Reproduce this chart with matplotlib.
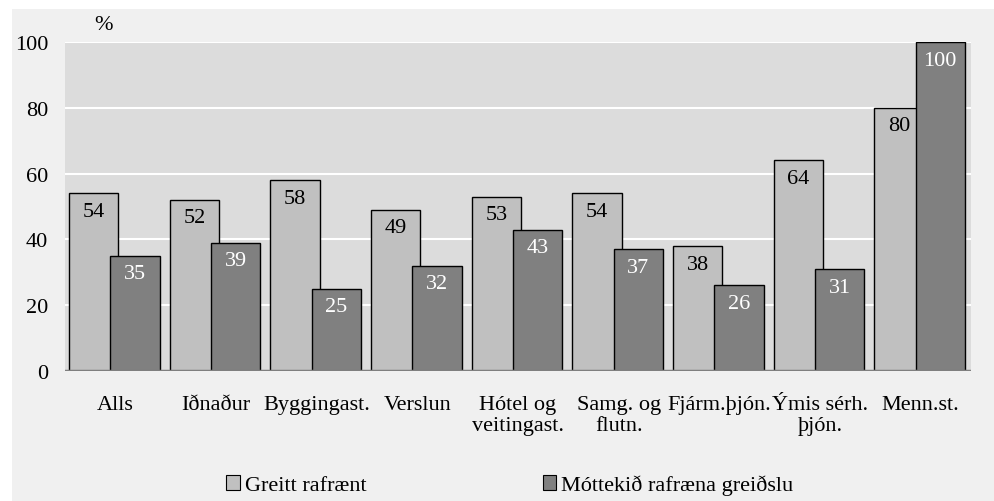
import matplotlib.pyplot as plt
from matplotlib.patches import Patch, Rectangle
import numpy as np

categories = ["Alls", "Iðnaður", "Byggingast.", "Verslun", "Hótel og\nveitingast.",
              "Samg. og\nflutn.", "Fjárm.þjón.", "Ýmis sérh.\nþjón.", "Menn.st."]
paid = [54, 52, 58, 49, 53, 54, 38, 64, 80]
received = [35, 39, 25, 32, 43, 37, 26, 31, 100]
series_names = ["Greitt rafrænt", "Móttekið rafræna greiðslu"]
yticks = [0, 20, 40, 60, 80, 100]

plt.rcParams["font.family"] = ["Liberation Serif", "DejaVu Serif"]
plt.rcParams["font.size"] = 16

fig = plt.figure(figsize=(9.94, 5.02), dpi=100, facecolor="white")
fig.patches.append(Rectangle((12 / 994, 0), 1, 1 - 10 / 502, transform=fig.transFigure,
                             facecolor="#f0f0f0", edgecolor="none", zorder=-10))

ax = fig.add_axes([65 / 994, 130 / 502, 906 / 994, 329 / 502])
ax.set_facecolor("#dcdcdc")

x = np.arange(len(categories))
w = 0.49
light = ax.bar(x + 0.04, paid, width=w, align="edge", color="#c0c0c0",
               edgecolor="black", linewidth=1, zorder=3)
dark = ax.bar(x + 0.45, received, width=w, align="edge", color="#808080",
              edgecolor="black", linewidth=1, zorder=4)

for bars, vals, col in [(light, paid, "black"), (dark, received, "white")]:
    for b, v in zip(bars, vals):
        ax.annotate(f"{v}", (b.get_x() + b.get_width() / 2, v), xytext=(0, -13),
                    textcoords="offset points", ha="center", va="center",
                    color=col, zorder=5)

ax.set_xlim(0, len(categories))
ax.set_ylim(0, 100)
ax.set_yticks(yticks)
ax.set_xticks(x + 0.5)
ax.set_xticklabels(categories, linespacing=1.15)
ax.tick_params(axis="both", length=0)
ax.tick_params(axis="y", pad=12)
ax.tick_params(axis="x", pad=17)
ax.grid(axis="y", color="white", linewidth=1.5, zorder=1)
ax.set_axisbelow(True)
for s in ax.spines.values():
    s.set_visible(False)
ax.axhline(0, color="#7f7f7f", linewidth=2.5, zorder=6)

ax.text(0.042, 1.0 + 17 / 329, "%", transform=ax.transAxes, ha="center", va="center")

handles = [Patch(facecolor="#c0c0c0", edgecolor="black", linewidth=0.8),
           Patch(facecolor="#808080", edgecolor="black", linewidth=0.8)]
fig.legend(handles, series_names, loc="center", ncol=2,
           bbox_to_anchor=(510 / 994, 1 - 486 / 502), frameon=False,
           handlelength=0.6, handleheight=0.6, handletextpad=0.25,
           columnspacing=7.9)

fig.savefig("out.png", dpi=100)
